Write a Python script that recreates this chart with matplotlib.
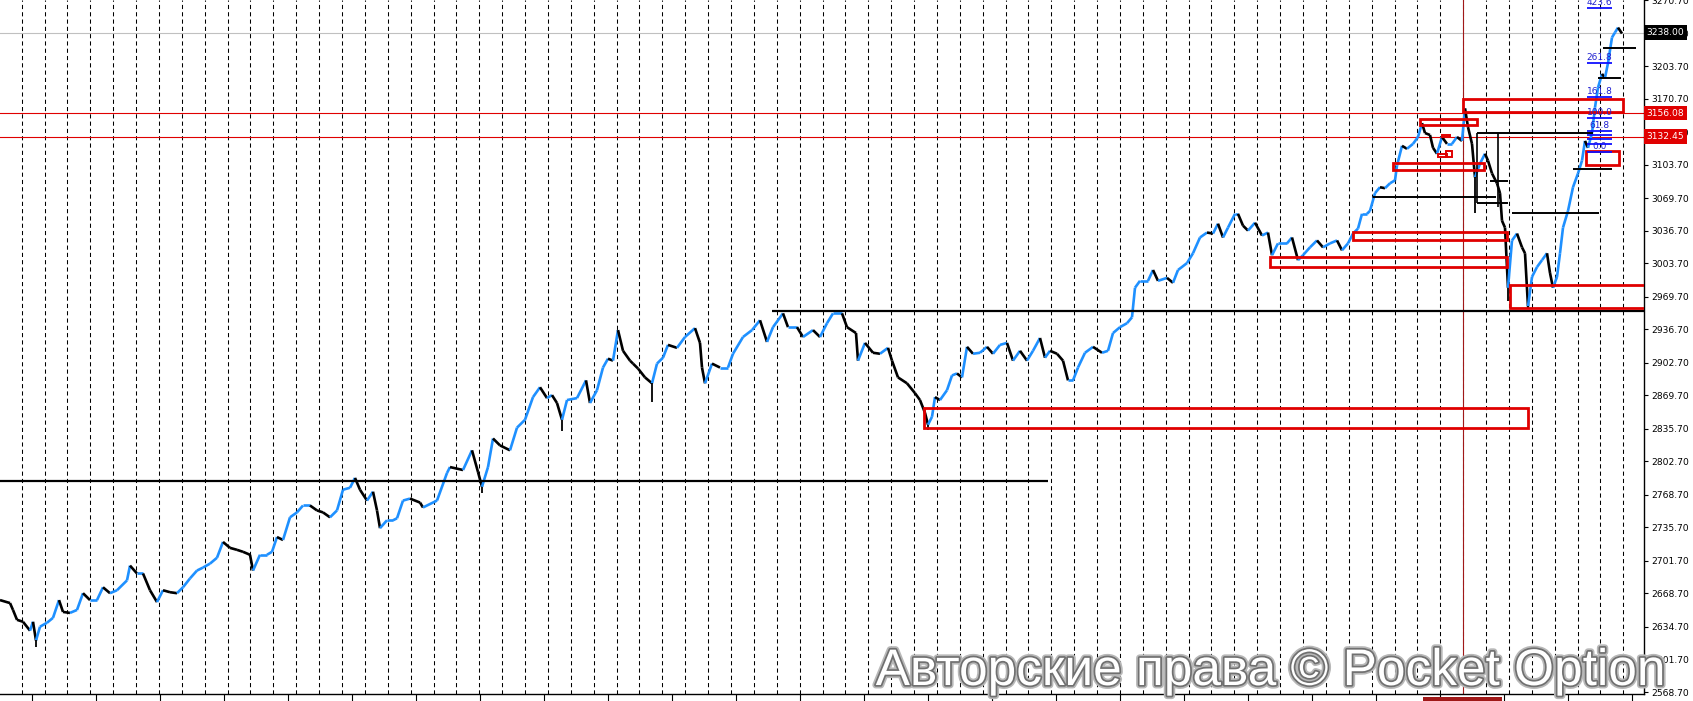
import numpy as np
import matplotlib
matplotlib.use("Agg")
import matplotlib.pyplot as plt
import matplotlib.patheffects as pe
import matplotlib.transforms as mtransforms
from matplotlib.collections import LineCollection
from matplotlib.patches import Rectangle

# ---- data --------------------------------------------------------------
# bar position (chart column) and close price
bar_x = [0, 10, 13, 17, 23, 30, 33, 36, 40, 47, 53, 59, 63, 70, 77, 83, 90, 97,
         103, 110, 117, 127, 130, 137, 143, 150, 157, 163, 170, 177, 183, 190,
         197, 203, 210, 217, 223, 230, 237, 243, 250, 253, 260, 267, 272, 277,
         283, 290, 297, 303, 310, 317, 323, 330, 337, 343, 350, 355, 360, 367,
         373, 377, 380, 387, 393, 397, 403, 410, 420, 423, 437, 447, 450, 463,
         472, 478, 482, 488, 493, 500, 510, 517, 525, 533, 540, 547, 552, 557,
         562, 567, 577, 586, 590, 597, 603, 608, 613, 618, 623, 630, 633, 638,
         645, 652, 657, 663, 668, 677, 685, 695, 700, 702, 705, 712, 720, 728,
         733, 743, 752, 760, 767, 773, 783, 788, 797, 803, 813, 820, 827, 833,
         842, 847, 856, 858, 865, 873, 880, 888, 892, 898, 907, 915, 920, 925,
         928, 932, 935, 940, 947, 952, 957, 962, 967, 973, 980, 987, 993, 1000,
         1007, 1013, 1020, 1027, 1033, 1040, 1045, 1050, 1057, 1063, 1068, 1073,
         1078, 1085, 1093, 1102, 1108, 1113, 1120, 1127, 1132, 1135, 1140, 1148,
         1153, 1158, 1167, 1173, 1178, 1187, 1193, 1200, 1207, 1213, 1218, 1223,
         1228, 1235, 1238, 1243, 1248, 1255, 1262, 1268, 1272, 1278, 1287, 1292,
         1298, 1303, 1310, 1317, 1323, 1330, 1337, 1342, 1348, 1353, 1358, 1362,
         1367, 1370, 1375, 1380, 1385, 1390, 1395, 1397, 1402, 1407, 1413, 1418,
         1422, 1425, 1430, 1433, 1437, 1442, 1447, 1452, 1457, 1462, 1465, 1468,
         1472, 1475, 1480, 1485, 1488, 1492, 1497, 1500, 1502, 1505, 1508, 1512,
         1517, 1522, 1525, 1528, 1532, 1537, 1542, 1547, 1550, 1553, 1557, 1560,
         1563, 1568, 1573, 1578, 1582, 1585, 1588, 1592, 1595, 1598, 1602, 1605,
         1608, 1612, 1615, 1618, 1622]
close = [2662, 2659, 2652, 2642, 2640, 2631, 2640, 2621, 2635, 2639, 2644, 2662,
         2650, 2649, 2652, 2669, 2662, 2662, 2675, 2669, 2672, 2682, 2697, 2689,
         2689, 2672, 2660, 2672, 2670, 2669, 2675, 2684, 2692, 2695, 2699, 2705,
         2721, 2715, 2713, 2711, 2708, 2692, 2708, 2708, 2711, 2726, 2723, 2746,
         2751, 2758, 2758, 2753, 2751, 2746, 2753, 2774, 2776, 2786, 2774, 2763,
         2772, 2753, 2735, 2743, 2743, 2745, 2763, 2765, 2761, 2756, 2763, 2791,
         2797, 2794, 2814, 2792, 2777, 2797, 2826, 2819, 2814, 2837, 2845, 2868,
         2878, 2867, 2870, 2862, 2845, 2865, 2867, 2885, 2862, 2875, 2898, 2907,
         2905, 2936, 2915, 2905, 2902, 2897, 2888, 2882, 2902, 2908, 2921, 2918,
         2929, 2938, 2923, 2898, 2882, 2902, 2898, 2898, 2912, 2929, 2936, 2946,
         2924, 2939, 2953, 2939, 2939, 2929, 2936, 2929, 2943, 2953, 2953, 2939,
         2933, 2905, 2923, 2913, 2912, 2918, 2905, 2888, 2882, 2872, 2865, 2852,
         2840, 2848, 2868, 2865, 2875, 2890, 2892, 2888, 2919, 2912, 2913, 2919,
         2912, 2921, 2923, 2905, 2915, 2905, 2915, 2928, 2908, 2915, 2912, 2905,
         2885, 2885, 2898, 2913, 2919, 2913, 2915, 2933, 2939, 2943, 2949, 2979,
         2986, 2986, 2997, 2986, 2989, 2984, 2997, 3004, 3014, 3030, 3035, 3034,
         3044, 3030, 3040, 3054, 3054, 3042, 3037, 3045, 3032, 3035, 3012, 3024,
         3024, 3030, 3007, 3012, 3020, 3027, 3020, 3024, 3027, 3017, 3024, 3034,
         3039, 3054, 3054, 3057, 3075, 3081, 3080, 3085, 3088, 3103, 3123, 3120,
         3125, 3132, 3146, 3136, 3134, 3121, 3115, 3132, 3125, 3125, 3132, 3128,
         3161, 3142, 3125, 3091, 3105, 3115, 3108, 3095, 3085, 3075, 3047, 3040,
         2979, 3027, 3034, 3020, 3014, 2960, 2990, 3000, 3007, 3014, 2994, 2979,
         2990, 3014, 3040, 3057, 3081, 3095, 3108, 3128, 3121, 3136, 3162, 3182,
         3196, 3192, 3207, 3233, 3238, 3243, 3237]

# long shadows that stick out of the close line
wick_x = [36, 482, 562, 652, 928, 1475, 1508, 1528]
wick_end = [2614, 2771, 2834, 2863, 2835, 3055, 2966, 2958]

price_ticks = [2568.70, 2601.70, 2634.70, 2668.70, 2701.70, 2735.70, 2768.70,
               2802.70, 2835.70, 2869.70, 2902.70, 2936.70, 2969.70, 3003.70,
               3036.70, 3069.70, 3103.70, 3136.70, 3170.70, 3203.70, 3236.70,
               3270.70]
bar_ticks = list(range(32, 1644, 64))

bid_price = 3238.00
red_levels = [3156.08, 3132.45]

# support / resistance lines: (from bar, to bar, price)
major_lines = [(0, 1048, 2782.6), (772, 1644, 2955.0)]
step_lines = [(1373, 1496, 3070.7), (1477, 1593, 3135.6), (1477, 1508, 3064.6),
              (1490, 1508, 3087.0), (1512, 1599, 3054.5), (1573, 1612, 3099.0),
              (1598, 1621, 3191.6), (1603, 1636, 3221.8)]
step_verticals = [(1477, 3064.6, 3135.6), (1498, 3060.6, 3135.6)]

# supply / demand zones: (from bar, to bar, low, high)
zones = [(924, 1528, 2836.4, 2856.7), (1270, 1507, 3000.0, 3009.9),
         (1353, 1507, 3027.1, 3035.2), (1393, 1484, 3098.1, 3105.2),
         (1420, 1477, 3143.7, 3149.8), (1463, 1623, 3156.9, 3170.1),
         (1586, 1619, 3103.2, 3117.4), (1510, 1650, 2958.0, 2981.5)]
small_zones = [(1442, 1450, 3131.5, 3134.5), (1438, 1447, 3111.3, 3114.3),
               (1446, 1452, 3112.0, 3118.0)]

# fibonacci expansion
fib_levels = [0.0, 23.6, 38.2, 50.0, 61.8, 100.0, 161.8, 261.8, 423.6]
fib_low, fib_high = 3116.3, 3150.8
fib_from, fib_to = 1587, 1612
fib_shown = ["0.0", "61.8", "100.0", "161.8", "261.8", "423.6"]

cursor_bar = 1463

# ---- figure ---------------------------------------------------------------
W, H = 1693, 701
fig = plt.figure(figsize=(W / 100, H / 100), dpi=100)
fig.patch.set_facecolor("white")
ax = fig.add_axes([0, 7 / H, 1644 / W, 694 / H])
ax.set_xlim(0, 1644)
ax.set_ylim(2566.7, 3271.0)

for s in ("left", "top"):
    ax.spines[s].set_visible(False)
ax.spines["right"].set_linewidth(1.0)
ax.spines["bottom"].set_linewidth(1.0)

# period separators
for gx in np.arange(21.7, 1644, 22.88):
    ax.axvline(gx, color="black", lw=0.75, ls=(0, (4, 3)), zorder=0.5)

# price bars as up/down coloured path
xs = np.array(bar_x, dtype=float)
ys = np.array(close, dtype=float)
segs = np.stack([np.column_stack([xs[:-1], ys[:-1]]),
                 np.column_stack([xs[1:], ys[1:]])], axis=1)
cols = ["#1E90FF" if b >= a else "black" for a, b in zip(ys[:-1], ys[1:])]
ax.add_collection(LineCollection(segs, colors=cols, linewidths=1.9, zorder=3))
for wx, we in zip(wick_x, wick_end):
    ax.vlines(wx, we, np.interp(wx, xs, ys), color="black", lw=1.3, zorder=3)

# horizontal levels
ax.axhline(bid_price, color="#c0c0c0", lw=0.8, zorder=1)
for lv in red_levels:
    ax.axhline(lv, color="#e00000", lw=0.8, zorder=2)
for x0, x1, p in major_lines:
    ax.hlines(p, x0, x1, color="black", lw=1.6, zorder=4)
for x0, x1, p in step_lines:
    ax.hlines(p, x0, x1, color="black", lw=1.4, zorder=4)
for x, p0, p1 in step_verticals:
    ax.vlines(x, p0, p1, color="black", lw=1.2, zorder=4)

for x0, x1, lo, hi in zones:
    ax.add_patch(Rectangle((x0, lo), x1 - x0, hi - lo, fill=False,
                           ec="#e00000", lw=2.0, zorder=5))
for x0, x1, lo, hi in small_zones:
    ax.add_patch(Rectangle((x0, lo), x1 - x0, hi - lo, fill=False,
                           ec="#e00000", lw=1.4, zorder=5))

ax.axvline(cursor_bar, color="#a01818", lw=0.8, zorder=2)

# fibo
for lv in fib_levels:
    p = fib_low + (fib_high - fib_low) * lv / 100.0
    ax.hlines(p, fib_from, fib_to, color="#1010ff", lw=1.3, zorder=6)
    lab = f"{lv:.1f}"
    if lab in fib_shown:
        ax.text((fib_from + fib_to) / 2, p + 1.2, lab, color="#2020d0",
                fontsize=6.5, ha="center", va="bottom",
                family="DejaVu Sans", zorder=6)

# axes ticks
ax.yaxis.tick_right()
ax.set_yticks(price_ticks)
ax.set_yticklabels([f"{v:.2f}" for v in price_ticks])
ax.tick_params(axis="y", direction="out", length=3, width=0.8, pad=2,
               labelsize=6.6, colors="black")
ax.set_xticks(bar_ticks)
ax.tick_params(axis="x", direction="out", length=5, width=0.8,
               labelbottom=False)

# price badges on the scale
blend = mtransforms.blended_transform_factory(ax.transAxes, ax.transData)
ax.text(1.0015, bid_price, f"{bid_price:.2f}", transform=blend, fontsize=6.6,
        color="white", va="center", ha="left", clip_on=False, zorder=10,
        bbox=dict(boxstyle="square,pad=0.3", fc="black", ec="none"))
for lv in red_levels:
    ax.text(1.0015, lv, f"{lv:.2f}", transform=blend, fontsize=6.6,
            color="white", va="center", ha="left", clip_on=False, zorder=10,
            bbox=dict(boxstyle="square,pad=0.3", fc="#e00000", ec="none"))

# time marker under the axis
tblend = mtransforms.blended_transform_factory(ax.transData, fig.transFigure)
fig.patches.append(Rectangle((cursor_bar - 40, 0), 79, 4 / H, transform=tblend,
                             fc="#a01818", ec="none"))

# watermark
fig.text(1270 / W, 16 / H, "Авторские права © Pocket Option",
         fontsize=37, family="Liberation Sans", color="white",
         ha="center", va="baseline", zorder=20,
         path_effects=[pe.Stroke(linewidth=5, foreground="#b8b8b8"),
                       pe.Stroke(linewidth=2.5, foreground="#707070"),
                       pe.Normal()])

fig.savefig("out.png", dpi=100)
